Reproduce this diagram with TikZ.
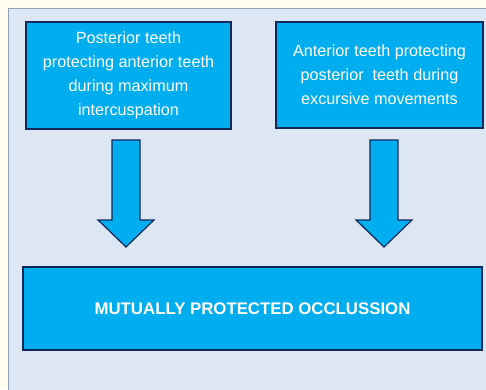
\documentclass[tikz,border=0pt]{standalone}
\usepackage{fontspec}
\setmainfont{Liberation Sans}
\usepackage{tikz}
\usetikzlibrary{calc}

\definecolor{cream}{HTML}{FFFDF0}
\definecolor{panelblue}{HTML}{DDE7F3}
\definecolor{panelline}{HTML}{8FA0B8}
\definecolor{boxcyan}{HTML}{00AEEF}
\definecolor{navy}{HTML}{10285A}

\begin{document}
\begin{tikzpicture}[x=1pt, y=-1pt,
    infobox/.style={draw=navy, line width=2pt, fill=boxcyan, text=white,
      align=center, font=\fontsize{16.2}{24}\selectfont, inner sep=0pt},
    downarrow/.style={draw=navy, line width=1.2pt, fill=boxcyan, line join=miter}]
  \useasboundingbox (0,0) rectangle (486,389);
  \fill[cream] (0,0) rectangle (486,389);
  \draw[panelline, fill=panelblue] (8,8) rectangle (492,395);

  % the two upper boxes
  \node[infobox, minimum width=205pt, minimum height=107pt] (post) at (128.5,75)
    {Posterior teeth\\protecting anterior teeth\\during maximum\\intercuspation};
  \node[infobox, minimum width=207pt, minimum height=106pt] (ant) at (379.5,75)
    {Anterior teeth protecting\\posterior\ \ teeth during\\excursive movements};

  % the result box
  \node[infobox, minimum width=459pt, minimum height=83pt,
    font=\bfseries\fontsize{16.8}{20}\selectfont] (mpo) at (252.5,308.5)
    {MUTUALLY PROTECTED OCCLUSSION};

  % block arrows
  \foreach \ax in {126,384} {
    \draw[downarrow] (\ax-14,140) -- (\ax+14,140) -- (\ax+14,220) -- (\ax+28,220)
      -- (\ax,247) -- (\ax-28,220) -- (\ax-14,220) -- cycle;
  }
\end{tikzpicture}
\end{document}
